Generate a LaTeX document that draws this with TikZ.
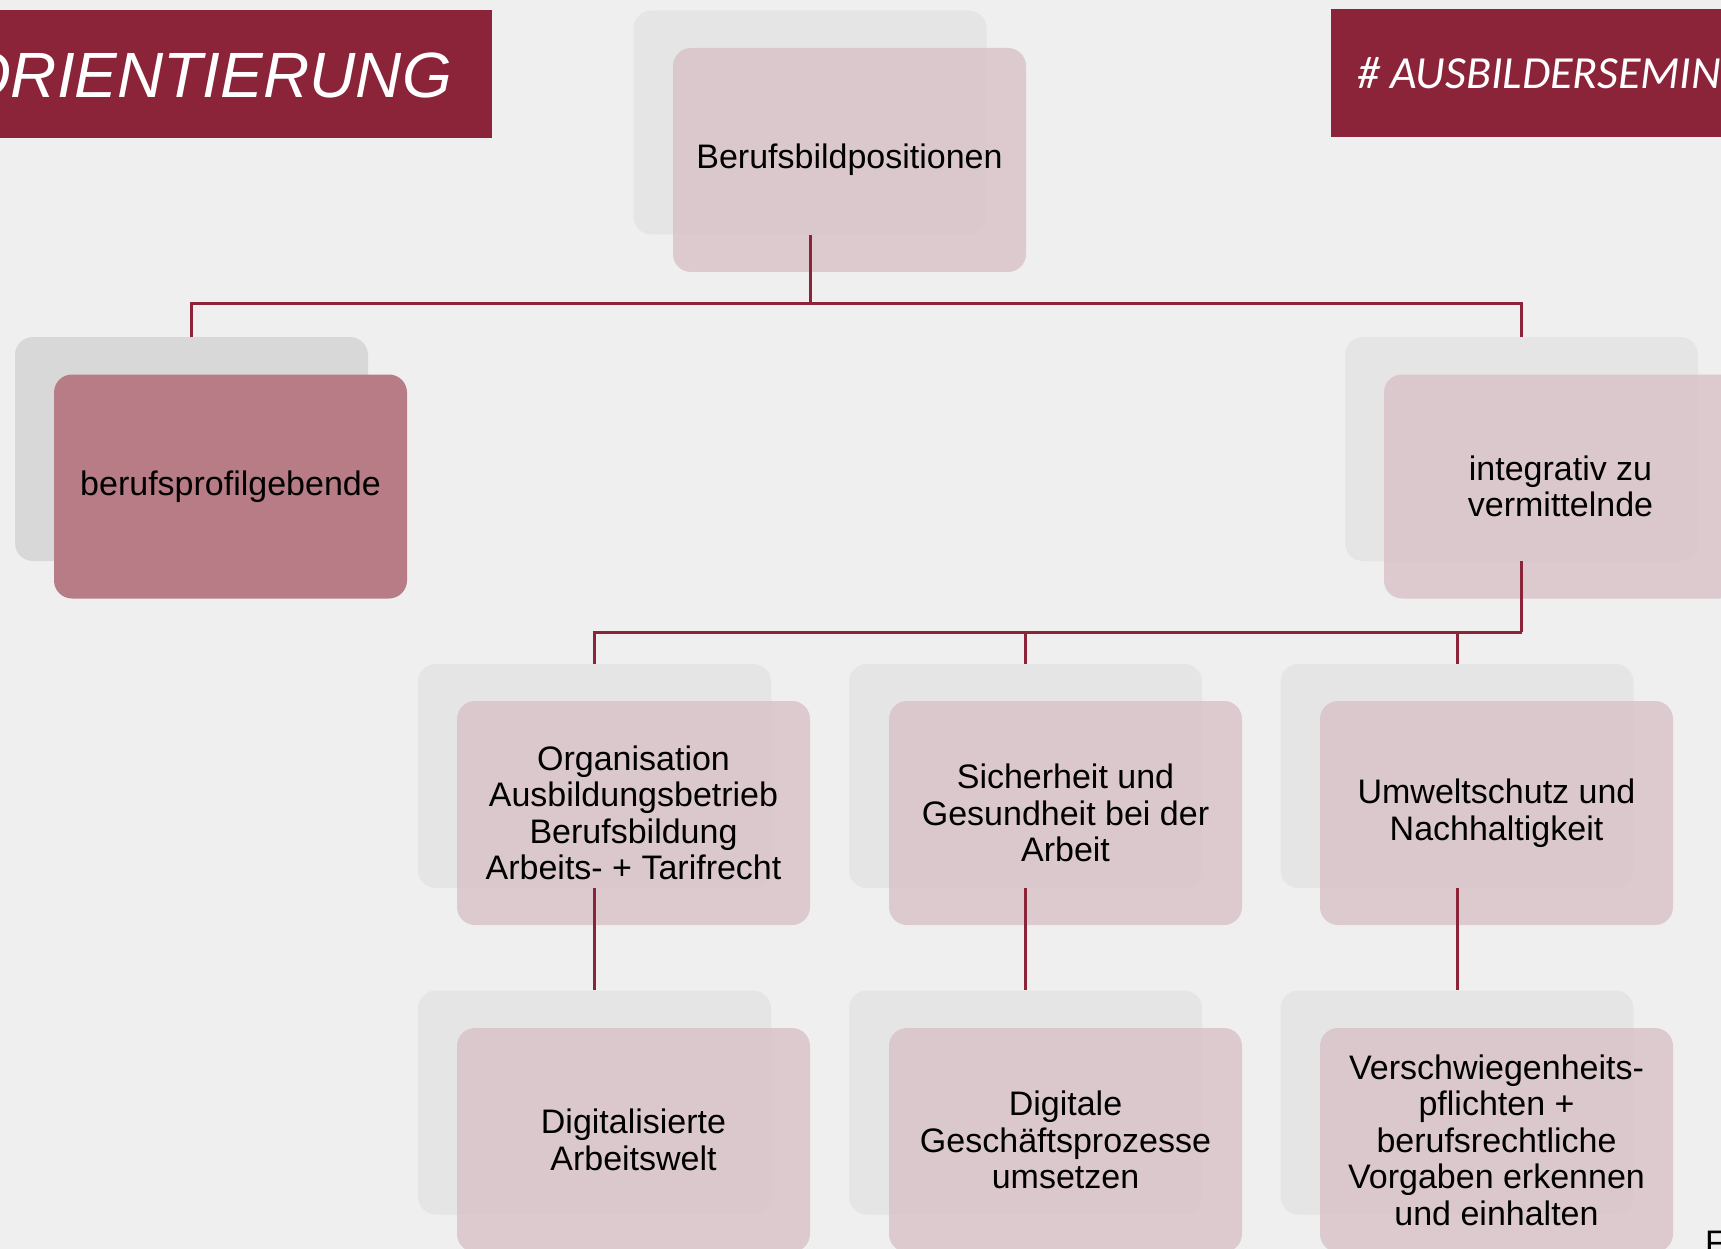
\documentclass[tikz,border=0pt]{standalone}
\usepackage{fontspec}
\setmainfont{Liberation Sans}
\newfontfamily\calibrifont{Carlito}
\definecolor{weinrot}{RGB}{139,35,57}
\definecolor{hintergrund}{RGB}{239,239,239}
\definecolor{schatten}{RGB}{229,229,229}
\definecolor{schattendunkel}{RGB}{216,216,216}
\definecolor{rosa}{RGB}{218,197,202}
\definecolor{rosadunkel}{RGB}{183,124,134}

\begin{document}
\begin{tikzpicture}[x=1pt,y=-1pt,
		back/.style={rectangle,rounded corners=18pt,minimum width=353pt,minimum height=224pt,inner sep=0pt,fill=schatten},
		front/.style={rectangle,rounded corners=18pt,minimum width=353pt,minimum height=224pt,inner sep=0pt,fill=rosa,fill opacity=0.88,text opacity=1,align=center,font=\fontsize{34}{36.5}\selectfont},
		conn/.style={draw=weinrot,line width=3pt},
		titel/.style={inner sep=0pt,text=white}]
				\useasboundingbox[fill=hintergrund] (0,0) rectangle (1721,1249);
				\fill[weinrot] (-10,10) rectangle (492,138);
				\node[titel,anchor=base east,font=\itshape\fontsize{64}{70}\selectfont] (links) at (452,98) {ORIENTIERUNG};
				\fill[weinrot] (1331,9) rectangle (1731,137);
				\node[titel,anchor=base west,font=\calibrifont\itshape\fontsize{46}{50}\selectfont] (rechts) at (1357,89) {\# AUSBILDERSEMIN};
				\node[back] (hPos) at (810,122.5) {};
				\node[front] (Pos) at (849.5,160) {Berufsbildpositionen};
				\node[back,fill=schattendunkel] (hBerufs) at (191.5,449) {};
				\node[front,fill=rosadunkel,fill opacity=1] (Berufs) at (230.5,486.5) {berufsprofilgebende};
				\node[back] (hInteg) at (1521.5,449) {};
				\node[front] (Integ) at (1560.5,486.5) {integrativ zu\\vermittelnde};
				\node[back] (hOrga) at (594.5,776) {};
				\node[front] (Orga) at (633.5,813) {Organisation\\Ausbildungsbetrieb\\Berufsbildung\\Arbeits- + Tarifrecht};
				\node[back] (hSich) at (1025.5,776) {};
				\node[front] (Sich) at (1065.5,813) {Sicherheit und\\Gesundheit bei der\\Arbeit};
				\node[back] (hUmwelt) at (1457,776) {};
				\node[front] (Umwelt) at (1496.5,813) {Umweltschutz und\\Nachhaltigkeit};
				\node[back] (hDigi) at (594.5,1102.5) {};
				\node[front] (Digi) at (633.5,1140) {Digitalisierte\\Arbeitswelt};
				\node[back] (hGesch) at (1025.5,1102.5) {};
				\node[front] (Gesch) at (1065.5,1140) {Digitale\\Geschäftsprozesse\\umsetzen};
				\node[back] (hVersch) at (1457,1102.5) {};
				\node[front] (Versch) at (1496.5,1140) {Verschwiegenheits-\\pflichten +\\berufsrechtliche\\Vorgaben erkennen\\und einhalten};
				\node[inner sep=0pt,anchor=base west,font=\fontsize{34}{36}\selectfont] (rest) at (1705,1254) {F};
				\coordinate (bus1) at (810,304);
				\coordinate (bus2) at (1521.5,632);
				\draw[conn] (hPos.south) -- (bus1);
				\draw[conn] (hBerufs.north) |- (bus1) -| (hInteg.north);
				\draw[conn] (hInteg.south) -- (bus2);
				\draw[conn] (hOrga.north) |- (bus2);
				\draw[conn] (hSich.north) -- (hSich.north |- bus2);
				\draw[conn] (hUmwelt.north) -- (hUmwelt.north |- bus2);
				\draw[conn] (hOrga.south) -- (hDigi.north);
				\draw[conn] (hSich.south) -- (hGesch.north);
				\draw[conn] (hUmwelt.south) -- (hVersch.north);
			\end{tikzpicture}
\end{document}
